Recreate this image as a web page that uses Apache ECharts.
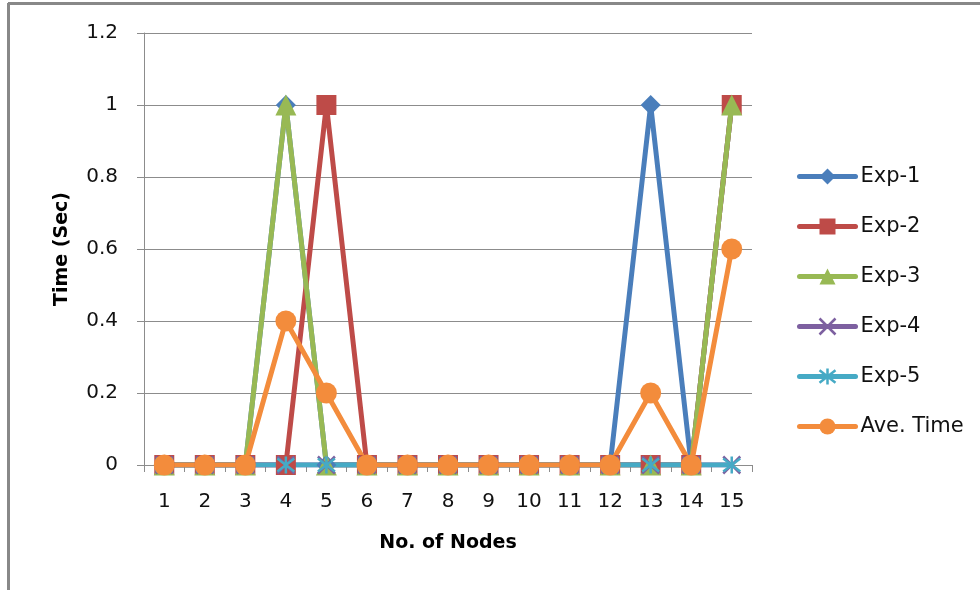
<!DOCTYPE html>
<html>
<head>
<meta charset="utf-8">
<script src="https://cdn.jsdelivr.net/npm/echarts@6/dist/echarts.min.js"></script>
<style>
  html, body { margin: 0; padding: 0; background: #fff; }
  #chart { width: 980px; height: 590px; }
</style>
</head>
<body>
<div id="chart"></div>
<script>
// Node counts on the horizontal axis
const nodes = ['1', '2', '3', '4', '5', '6', '7', '8', '9', '10', '11', '12', '13', '14', '15'];

// Measured time (seconds) per experiment
const exp1 = [0, 0, 0, 1, 0, 0, 0, 0, 0, 0, 0, 0, 1, 0, 1];
const exp2 = [0, 0, 0, 0, 1, 0, 0, 0, 0, 0, 0, 0, 0, 0, 1];
const exp3 = [0, 0, 0, 1, 0, 0, 0, 0, 0, 0, 0, 0, 0, 0, 1];
const exp4 = [0, 0, 0, 0, 0, 0, 0, 0, 0, 0, 0, 0, 0, 0, 0];
const exp5 = [0, 0, 0, 0, 0, 0, 0, 0, 0, 0, 0, 0, 0, 0, 0];
const aveTime = [0, 0, 0, 0.4, 0.2, 0, 0, 0, 0, 0, 0, 0, 0.2, 0, 0.6];

const seriesNames = ['Exp-1', 'Exp-2', 'Exp-3', 'Exp-4', 'Exp-5', 'Ave. Time'];
const seriesData = [exp1, exp2, exp3, exp4, exp5, aveTime];

const FONT = '"DejaVu Sans", "Open Sans", sans-serif';
const colors = ['#4A7EBB', '#BE4B48', '#98B954', '#7D60A0', '#46AAC5', '#F38C3C'];

// Marker shapes: diamond, square, triangle, cross, asterisk, circle
const crossPath = 'path://M0,0L10,10M10,0L0,10';
const starPath = 'path://M0,0L10,10M10,0L0,10M5,-1.5L5,11.5';
const symbols = ['diamond', 'rect', 'triangle', crossPath, starPath, 'circle'];
const sizes = [20, 20, 21, 17, 17, 21];

function markerStyle(i) {
  return (i === 3 || i === 4)
    ? { color: 'transparent', borderColor: colors[i], borderWidth: 2.5 }
    : { color: colors[i], borderWidth: 0 };
}

const series = seriesNames.map((name, i) => ({
  name: name,
  type: 'line',
  data: seriesData[i],
  symbol: symbols[i],
  symbolSize: sizes[i],
  showAllSymbol: true,
  lineStyle: { color: colors[i], width: 5, cap: 'round', join: 'round' },
  itemStyle: markerStyle(i),
  emphasis: { disabled: true },
  animation: false
}));

const chart = echarts.init(document.getElementById('chart'), null, { renderer: 'canvas' });
chart.setOption({
  backgroundColor: '#fff',
  animation: false,
  color: colors,
  grid: { left: 144, right: 228, top: 33, bottom: 125, containLabel: false },
  legend: {
    orient: 'vertical',
    left: 792,
    top: 161,
    itemWidth: 56,
    itemHeight: 20,
    itemGap: 29,
    textStyle: { fontFamily: FONT, fontSize: 21, color: '#111' },
    data: seriesNames.map((n, i) => ({
      name: n,
      itemStyle: markerStyle(i),
      lineStyle: { width: 5, color: colors[i], cap: 'round' }
    }))
  },
  xAxis: {
    type: 'category',
    data: nodes,
    boundaryGap: true,
    name: 'No. of Nodes',
    nameLocation: 'middle',
    nameGap: 69,
    nameTextStyle: { fontFamily: FONT, fontSize: 19, fontWeight: 'bold', color: '#000' },
    axisLine: { lineStyle: { color: '#8c8c8c', width: 1 } },
    axisTick: { show: true, length: 7, alignWithLabel: false, lineStyle: { color: '#8c8c8c' } },
    axisLabel: { fontFamily: FONT, fontSize: 20, color: '#111', margin: 27 },
    splitLine: { show: false }
  },
  yAxis: {
    type: 'value',
    min: 0,
    max: 1.2,
    interval: 0.2,
    name: 'Time (Sec)',
    nameLocation: 'middle',
    nameRotate: 90,
    nameGap: 72,
    nameTextStyle: { fontFamily: FONT, fontSize: 19, fontWeight: 'bold', color: '#000' },
    axisLine: { show: true, lineStyle: { color: '#8c8c8c', width: 1 } },
    axisTick: { show: true, length: 7, lineStyle: { color: '#8c8c8c' } },
    axisLabel: {
      fontFamily: FONT, fontSize: 20, color: '#111', margin: 26,
      formatter: v => (Math.round(v * 10) / 10).toString()
    },
    splitLine: { show: true, lineStyle: { color: '#8c8c8c', width: 1 } }
  },
  graphic: [
    // outer chart frame (top and left edges)
    { type: 'line', shape: { x1: 8, y1: 3.5, x2: 980, y2: 3.5 }, style: { stroke: '#888', lineWidth: 3 }, silent: true },
    { type: 'line', shape: { x1: 8.5, y1: 3, x2: 8.5, y2: 590 }, style: { stroke: '#888', lineWidth: 3 }, silent: true }
  ],
  series: series
});
</script>
</body>
</html>
